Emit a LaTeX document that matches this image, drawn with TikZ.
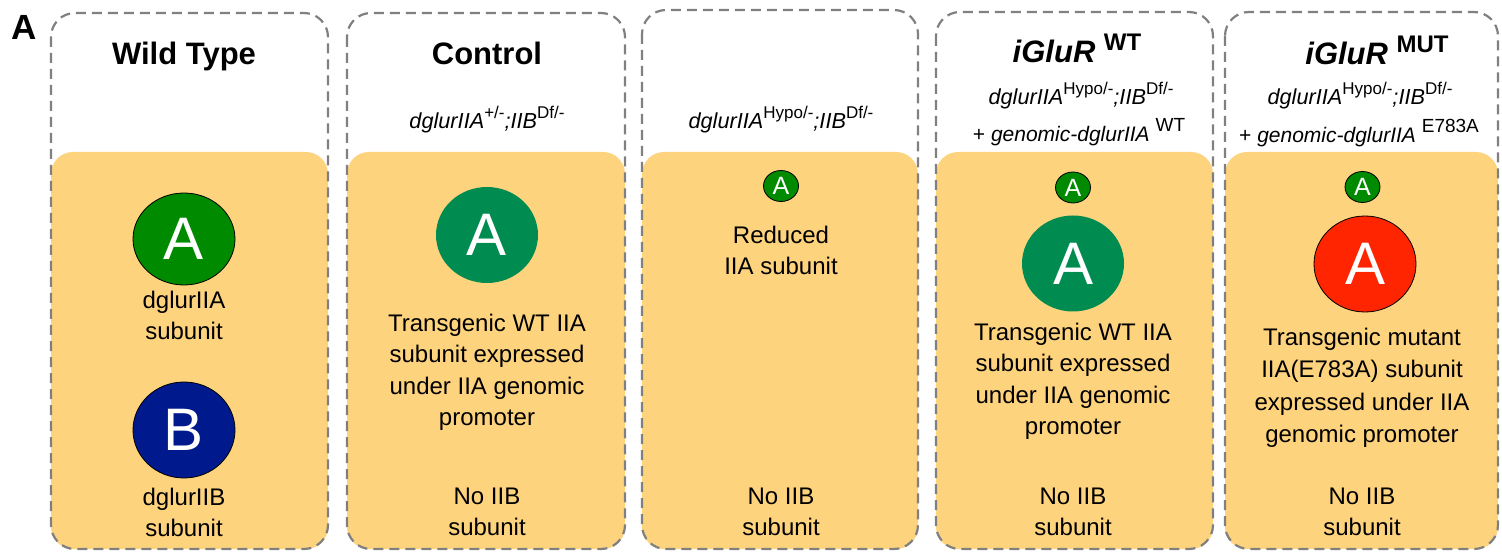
\documentclass[tikz,border=0pt]{standalone}
\usepackage{fontspec}
\setmainfont{Liberation Sans}
\usetikzlibrary{shapes.geometric}

\definecolor{dashgray}{RGB}{128,128,128}
\definecolor{cellyellow}{RGB}{254,211,125}
\definecolor{agreen}{RGB}{0,138,0}
\definecolor{ateal}{RGB}{0,140,80}
\definecolor{bblue}{RGB}{0,26,142}
\definecolor{mutred}{RGB}{255,37,0}

% genotype superscripts
\newcommand\gsup[1]{\raisebox{10pt}{\fontsize{17}{17}\selectfont\upshape #1}}
\newcommand\gsupb[1]{\raisebox{10pt}{\fontsize{19}{19}\selectfont\upshape #1}}
\newcommand\tsup[1]{\raisebox{12pt}{\fontsize{24}{24}\selectfont\bfseries\upshape #1}}

\begin{document}
\begin{tikzpicture}[x=1pt,y=-1pt,
  panel/.style={draw=dashgray, line width=2.2pt, dash pattern=on 10pt off 6pt, rounded corners=24pt},
  cellbg/.style={fill=cellyellow, rounded corners=22pt},
  bigsub/.style={ellipse, minimum width=102pt, minimum height=96pt, inner sep=0pt,
    text=white, font=\fontsize{60}{60}\selectfont},
  smallsub/.style={ellipse, minimum width=35pt, minimum height=31pt, inner sep=0pt,
    text=white, draw=black, line width=0.8pt, fill=agreen, font=\fontsize{25}{25}\selectfont},
  outlined/.style={draw=black, line width=0.8pt},
  body/.style={align=center, inner sep=0pt, anchor=north, font=\fontsize{24}{31.5}\selectfont},
  title/.style={anchor=base, inner sep=0pt, font=\bfseries\fontsize{31}{31}\selectfont},
  geno/.style={anchor=base, inner sep=0pt, font=\fontsize{21.7}{21.7}\selectfont},
  tag/.style={anchor=base, inner sep=0pt, font=\bfseries\fontsize{35}{35}\selectfont}]

\useasboundingbox (0,0) rectangle (1502,553);

% yellow cell areas
\fill[cellbg] (51,152) rectangle (328,549);
\fill[cellbg] (347,152) rectangle (625,549);
\fill[cellbg] (642,152) rectangle (918,549);
\fill[cellbg] (936,152) rectangle (1213,549);
\fill[cellbg] (1225,152) rectangle (1498,549);

% dashed panel frames
\draw[panel] (51,13) rectangle (328,549);
\draw[panel] (347,13) rectangle (625,549);
\draw[panel] (642,10) rectangle (918,549);
\draw[panel] (936,12) rectangle (1213,549);
\draw[panel] (1225,12) rectangle (1498,549);

% panel tag
\node[tag] (tagA) at (24.5,40) {A};

% wild type
\node[title] (t1) at (184,65) {Wild Type};
\node[bigsub, outlined, fill=agreen, minimum height=92pt] (wtA) at (184,239) {A};
\node[body] (wtAtxt) at (184,290.5) {dglurIIA\\subunit};
\node[bigsub, outlined, fill=bblue] (wtB) at (184,430) {B};
\node[body] (wtBtxt) at (184,487.5) {dglurIIB\\subunit};

% control
\node[title] (t2) at (487,65) {Control};
\node[geno] (g2) at (487,129) {\textit{dglurIIA}\gsup{+/-}\textit{;IIB}\gsup{Df/-}};
\node[bigsub, fill=ateal] (ctA) at (487,235) {A};
\node[body] (cttxt) at (487,313.5) {Transgenic WT IIA\\subunit expressed\\under IIA genomic\\promoter};
\node[body] (ctno) at (487,487.5) {No IIB\\subunit};

% hypomorph
\node[geno] (g3) at (781,129) {\textit{dglurIIA}\gsup{Hypo/-}\textit{;IIB}\gsup{Df/-}};
\node[smallsub] (hyA) at (781,186) {A};
\node[body] (hytxt) at (781,225.5) {Reduced\\IIA subunit};
\node[body] (hyno) at (781,487.5) {No IIB\\subunit};

% iGluR WT
\node[title] (t4) at (1077,63) {\textit{iGluR}\ \tsup{WT}};
\node[geno] (g4a) at (1081,105) {\textit{dglurIIA}\gsup{Hypo/-}\textit{;IIB}\gsup{Df/-}};
\node[geno, font=\fontsize{21}{21}\selectfont] (g4b) at (1079,142) {+ \textit{genomic-dglurIIA}\ \gsupb{WT}};
\node[smallsub] (wA1) at (1073,187.5) {A};
\node[bigsub, fill=ateal] (wA2) at (1073,263.5) {A};
\node[body] (wtxt) at (1073,322.5) {Transgenic WT IIA\\subunit expressed\\under IIA genomic\\promoter};
\node[body] (wno) at (1073,487.5) {No IIB\\subunit};

% iGluR MUT
\node[title] (t5) at (1377,65) {\textit{iGluR}\ \tsup{MUT}};
\node[geno] (g5a) at (1360,105) {\textit{dglurIIA}\gsup{Hypo/-}\textit{;IIB}\gsup{Df/-}};
\node[geno, font=\fontsize{21}{21}\selectfont] (g5b) at (1359,143) {+ \textit{genomic-dglurIIA}\ \gsupb{E783A}};
\node[smallsub] (mA1) at (1362.5,187) {A};
\node[bigsub, outlined, fill=mutred] (mA2) at (1365,264) {A};
\node[body, font=\fontsize{24}{32.5}\selectfont] (mtxt) at (1362,327.5) {Transgenic mutant\\IIA(E783A) subunit\\expressed under IIA\\genomic promoter};
\node[body] (mno) at (1362,487.5) {No IIB\\subunit};

\end{tikzpicture}
\end{document}
